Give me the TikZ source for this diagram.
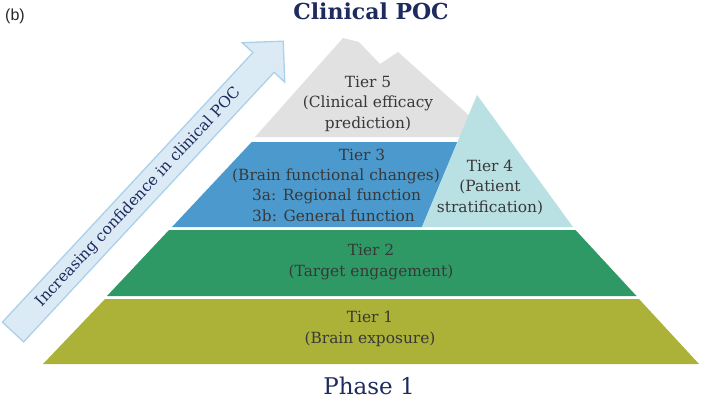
\documentclass[tikz,border=0pt]{standalone}
\usepackage{fontspec}
\setmainfont{DejaVu Serif}
\newfontfamily\labelfont{Liberation Sans}
\definecolor{navy}{HTML}{1F2B5E}
\definecolor{txt}{HTML}{383838}
\definecolor{tierone}{HTML}{ABB237}
\definecolor{tiertwo}{HTML}{2F9966}
\definecolor{tierthree}{HTML}{4C9ACD}
\definecolor{tierfour}{HTML}{B9E0E3}
\definecolor{tierfive}{HTML}{E1E1E1}
\definecolor{arrowfill}{HTML}{DCEAF6}
\definecolor{arrowline}{HTML}{A9D1EA}
\begin{document}
\begin{tikzpicture}[x=1pt,y=1pt,
  tiertext/.style={text=txt,align=center,inner sep=0pt,font=\fontsize{15.4}{20.5}\selectfont},
  titletext/.style={text=navy,inner sep=0pt}]
\useasboundingbox (0,0) rectangle (701,400);
% Tier 1
\fill[tierone] (43,36) -- (699,36) -- (639,101) -- (105,101) -- cycle;
% Tier 2
\fill[tiertwo] (107,104) -- (636.5,104) -- (575.5,170) -- (169,170) -- cycle;
% Tier 3
\fill[tierthree] (172,173) -- (422,173) -- (457.4,258) -- (251.7,258) -- cycle;
% Tier 5 (mountain)
\fill[tierfive] (255,263) -- (343,362) -- (359,358) -- (380,336) -- (398,348) -- (472,282) -- (462,263) -- cycle;
% Tier 4 (triangle)
\fill[tierfour] (422,173) -- (573,173) -- (477,305) -- cycle;
% Arrow
\begin{scope}[shift={(13,68)},rotate=47.1]
  \draw[fill=arrowfill,draw=arrowline,line width=1.3pt,line join=miter]
    (0,-14.5) -- (368,-14.5) -- (368,-29) -- (397,0) -- (368,29) -- (368,14.5) -- (0,14.5) -- cycle;
  \node[text=navy,inner sep=0pt,rotate=47.1,font=\fontsize{15.4}{18}\selectfont] (arrowtext) at (184,0) {Increasing confidence in clinical POC};
\end{scope}
% Texts
\node[tiertext] (t5) at (368,296.3) {Tier 5\\(Clinical efficacy\\prediction)};
\node[tiertext] (t3title) at (362,245) {Tier 3};
\node[tiertext] (t3sub) at (336,224) {(Brain functional changes)};
\node[tiertext,anchor=west] (t3a) at (252,204) {3a: Regional function};
\node[tiertext,anchor=west] (t3b) at (252,184) {3b: General function};
\node[tiertext] (t4) at (490,212.7) {Tier 4\\(Patient\\stratification)};
\node[tiertext] (t2) at (371,138) {Tier 2\\(Target engagement)};
\node[tiertext,font=\fontsize{15.4}{21.5}\selectfont] (t1) at (370,71) {Tier 1\\(Brain exposure)};
\node[titletext,anchor=base,font=\fontsize{22}{26}\selectfont\bfseries] (top) at (371,380) {Clinical POC};
\node[titletext,anchor=base,font=\fontsize{23}{27}\selectfont] (bottom) at (369,6) {Phase 1};
\node[inner sep=0pt,font=\labelfont\fontsize{16}{18}\selectfont,text=black!85] (lbl) at (15,384) {(b)};
\end{tikzpicture}
\end{document}
